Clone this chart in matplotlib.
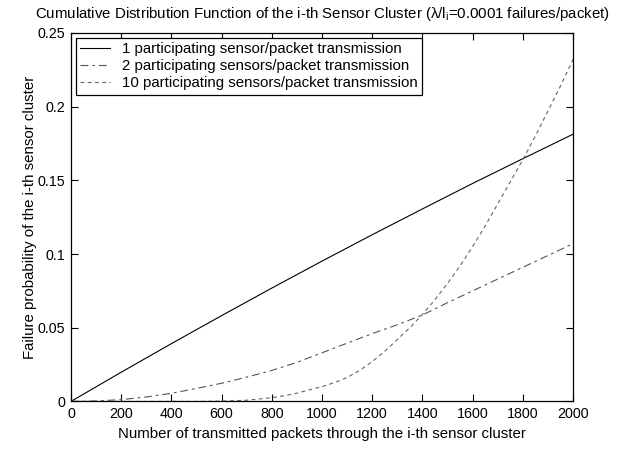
import matplotlib
matplotlib.use("Agg")
import matplotlib.pyplot as plt

plt.rcParams['font.family'] = ['Liberation Sans', 'DejaVu Sans']
plt.rcParams['mathtext.fontset'] = 'custom'
plt.rcParams['mathtext.rm'] = 'Liberation Sans'

packets_1 = [0, 200, 400, 600, 800, 1000, 1200, 1400, 1600, 1800, 2000]
sensor_1 = [0, 0.0198, 0.0392, 0.0582, 0.0769, 0.0952, 0.1131, 0.1306, 0.1479, 0.1647, 0.1813]

packets_2 = [0, 100, 200, 300, 400, 500, 600, 700, 800, 900, 1000, 1100, 1200, 1300,
             1400, 1500, 1600, 1700, 1800, 1900, 2000]
sensor_2 = [0, 0.0003, 0.0012, 0.003, 0.0055, 0.0088, 0.0123, 0.0165, 0.021, 0.0265,
            0.033, 0.0395, 0.046, 0.052, 0.0586, 0.067, 0.075, 0.083, 0.091, 0.099, 0.107]

packets_10 = [0, 100, 200, 300, 400, 500, 600, 700, 800, 850, 900, 950, 1000, 1050, 1100, 1150,
              1200, 1250, 1300, 1350, 1400, 1450, 1500, 1550, 1600, 1650, 1700, 1750,
              1800, 1850, 1900, 1950, 2000]
sensor_10 = [0, 0, 0, 0, 0, 0, 0.0002, 0.0008, 0.0025, 0.0038, 0.0056, 0.0078, 0.0100,
             0.0128, 0.0162, 0.021, 0.027, 0.034, 0.042, 0.050, 0.059, 0.069, 0.080,
             0.092, 0.105, 0.119, 0.134, 0.149, 0.164, 0.180, 0.197, 0.214, 0.232]

labels = ['1 participating sensor/packet transmission',
          '2 participating sensors/packet transmission',
          '10 participating sensors/packet transmission']

xticks = [0, 200, 400, 600, 800, 1000, 1200, 1400, 1600, 1800, 2000]
yticks = [0, 0.05, 0.1, 0.15, 0.2, 0.25]
yticklabels = ['0', '0.05', '0.1', '0.15', '0.2', '0.25']

TXT = 10.8
fig = plt.figure(figsize=(6.34, 4.49), dpi=100)
ax = fig.add_axes([71/634, 1-401.4/449, (573-71)/634, (401.4-33)/449])

ax.plot(packets_1, sensor_1, color='black', lw=0.8, label=labels[0])
ax.plot(packets_2, sensor_2, color='#555555', lw=0.8, dashes=(7, 3.5, 2.5, 3.5), label=labels[1])
ax.plot(packets_10, sensor_10, color='#666666', lw=0.8, dashes=(3.5, 3), label=labels[2])

ax.set_xlim(0, 2000)
ax.set_ylim(0, 0.25)
ax.set_xticks(xticks)
ax.set_yticks(yticks)
ax.set_yticklabels(yticklabels)
ax.tick_params(direction='in', top=True, right=True, length=5, width=0.8, labelsize=10.3, pad=4)
for s in ax.spines.values():
    s.set_linewidth(0.9)

ax.set_xlabel('Number of transmitted packets through the i-th sensor cluster', fontsize=TXT, labelpad=4)
ax.set_ylabel('Failure probability of the i-th sensor cluster', fontsize=TXT, labelpad=0.5)
ax.set_title('Cumulative Distribution Function of the i-th Sensor Cluster (λ/l$_{\\mathregular{i}}$=0.0001 failures/packet)',
             fontsize=TXT, pad=11)

leg = ax.legend(loc='upper left', fontsize=TXT, frameon=True, fancybox=False, handlelength=2.0,
                borderaxespad=0.3, borderpad=0.3, labelspacing=0.2, handletextpad=0.8)
leg.get_frame().set_edgecolor('black')
leg.get_frame().set_linewidth(0.9)
leg.get_frame().set_alpha(1)

fig.savefig('out.png', dpi=100)
